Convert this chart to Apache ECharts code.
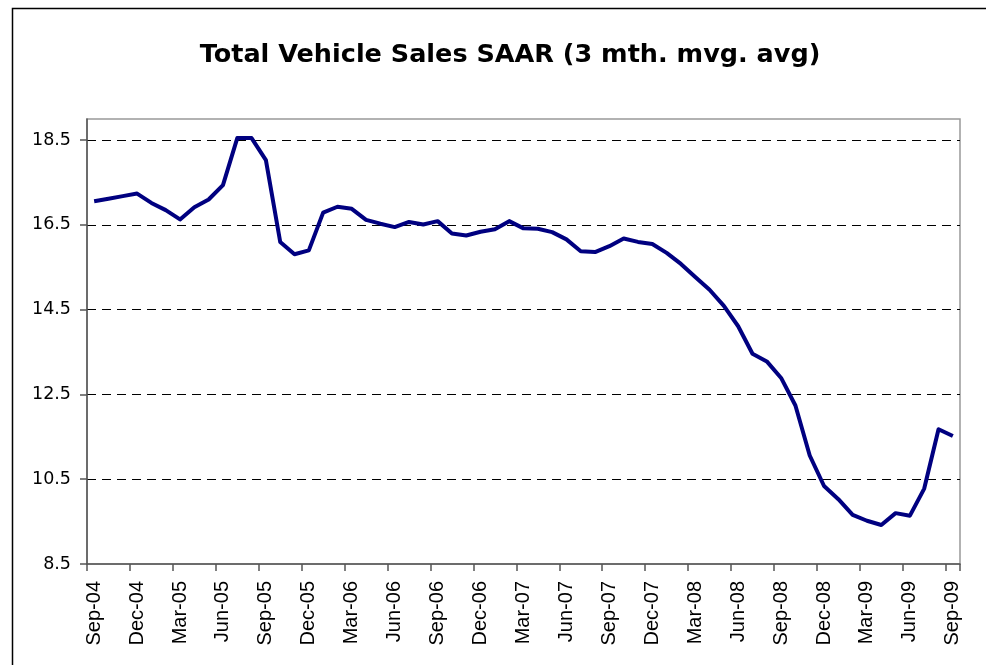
<!DOCTYPE html>
<html>
<head>
<meta charset="utf-8">
<script src="https://cdn.jsdelivr.net/npm/echarts@6/dist/echarts.min.js"></script>
<style>html,body{margin:0;padding:0;background:#fff}#c{width:986px;height:665px}</style>
</head>
<body>
<div id="c"></div>
<script>
const titleText = 'Total Vehicle Sales SAAR (3 mth. mvg. avg)';
const months = ['Sep-04','Oct-04','Nov-04','Dec-04','Jan-05','Feb-05','Mar-05','Apr-05','May-05','Jun-05','Jul-05','Aug-05',
  'Sep-05','Oct-05','Nov-05','Dec-05','Jan-06','Feb-06','Mar-06','Apr-06','May-06','Jun-06','Jul-06','Aug-06',
  'Sep-06','Oct-06','Nov-06','Dec-06','Jan-07','Feb-07','Mar-07','Apr-07','May-07','Jun-07','Jul-07','Aug-07',
  'Sep-07','Oct-07','Nov-07','Dec-07','Jan-08','Feb-08','Mar-08','Apr-08','May-08','Jun-08','Jul-08','Aug-08',
  'Sep-08','Oct-08','Nov-08','Dec-08','Jan-09','Feb-09','Mar-09','Apr-09','May-09','Jun-09','Jul-09','Aug-09','Sep-09'];
const sales = [17.06,17.12,17.18,17.24,17.02,16.85,16.63,16.92,17.10,17.44,18.55,18.55,
  18.03,16.10,15.81,15.90,16.79,16.93,16.88,16.62,16.53,16.45,16.57,16.51,
  16.59,16.30,16.25,16.34,16.40,16.59,16.42,16.41,16.33,16.16,15.88,15.86,
  16.00,16.18,16.10,16.05,15.84,15.58,15.27,14.97,14.59,14.11,13.46,13.28,
  12.89,12.24,11.06,10.34,10.03,9.66,9.52,9.42,9.70,9.64,10.28,11.68,11.52];
const yTicks = [8.5, 10.5, 12.5, 14.5, 16.5, 18.5];

const chart = echarts.init(document.getElementById('c'), null, {renderer: 'canvas'});
const ARIAL = 'Liberation Sans, Arial, sans-serif';
const WIDE = 'DejaVu Sans, sans-serif';
chart.setOption({
  animation: false,
  backgroundColor: '#fff',
  textStyle: {fontFamily: ARIAL},
  graphic: [{
    type: 'rect', left: 10, top: 6, shape: {width: 1000, height: 700},
    style: {fill: 'none', stroke: '#000', lineWidth: 1.5}, silent: true, z: -1
  }],
  title: {
    text: titleText, left: 505, top: 37, textAlign: 'center',
    textStyle: {fontFamily: WIDE, fontWeight: 'bold', fontSize: 25.5, color: '#000'}
  },
  grid: {
    left: 87, top: 119, right: 26, bottom: 101,
    show: true, borderColor: '#999', borderWidth: 1.5, backgroundColor: '#fff',
    containLabel: false, outerBoundsMode: 'none'
  },
  xAxis: {
    type: 'category', data: months, boundaryGap: true,
    axisLine: {lineStyle: {color: '#555', width: 1.5}},
    axisTick: {show: true, interval: 2, alignWithLabel: false, length: 7, lineStyle: {color: '#555', width: 1.5}},
    axisLabel: {interval: 2, rotate: 90, margin: 17, fontSize: 20, color: '#000', fontFamily: ARIAL},
    splitLine: {show: false}
  },
  yAxis: {
    type: 'value', min: 8.5, max: 19, interval: 2,
    axisLine: {show: true, lineStyle: {color: '#555', width: 1.5}},
    axisTick: {show: true, length: 7, customValues: yTicks, lineStyle: {color: '#555', width: 1.5}},
    axisLabel: {customValues: yTicks, margin: 16, fontSize: 17.5, color: '#000', fontFamily: WIDE,
      formatter: v => v.toFixed(1)},
    splitLine: {show: true, showMinLine: false, lineStyle: {color: '#000', width: 1, type: [9, 6]}}
  },
  series: [{
    type: 'line', data: sales, showSymbol: false, symbol: 'none',
    lineStyle: {color: '#000080', width: 4, join: 'round'},
    z: 3
  }]
});
</script>
</body>
</html>
